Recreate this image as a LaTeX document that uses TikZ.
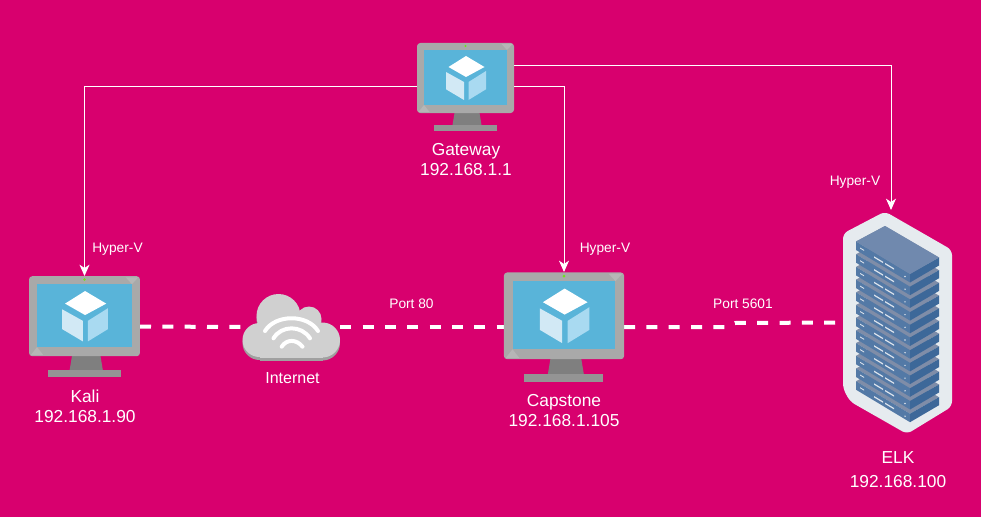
\documentclass[tikz,border=0pt]{standalone}
\usepackage{fontspec}
\setmainfont{Liberation Sans}
\usetikzlibrary{arrows.meta}

\definecolor{bgpink}{HTML}{D8006E}
\definecolor{vmframe}{HTML}{A9A9A9}
\definecolor{vmcorner}{HTML}{B6B6B6}
\definecolor{vmneck}{HTML}{7F7F7F}
\definecolor{vmbase}{HTML}{949494}
\definecolor{vmscreen}{HTML}{59B4D9}
\definecolor{vmleft}{HTML}{D2E9F5}
\definecolor{vmright}{HTML}{A9DAF1}
\definecolor{cloudbody}{HTML}{D0D0D0}
\definecolor{cloudshade}{HTML}{A0A0A0}
\definecolor{rackshield}{HTML}{E6EBEF}
\definecolor{racktop}{HTML}{7089AE}
\definecolor{rackgrey}{HTML}{7F8DA8}
\definecolor{rackleft}{HTML}{5379A6}
\definecolor{rackright}{HTML}{3D6899}
\definecolor{rackbar}{HTML}{DCE3EC}

\tikzset{
  iconbox/.style={inner sep=0pt, outer sep=0pt},
  biglabel/.style={text=white, align=center, inner sep=0pt, font=\fontsize{13}{15}\selectfont},
  midlabel/.style={text=white, inner sep=0pt, font=\fontsize{12}{14}\selectfont},
  smalllabel/.style={text=white, inner sep=0pt, font=\fontsize{10.3}{12}\selectfont},
  hyperlink/.style={draw=white, line width=0.75pt, -{Stealth[length=8.5pt,width=7.5pt,inset=2.5pt]}},
  portlink/.style={draw=white, line width=3pt, dash pattern=on 8.25pt off 8.5pt},
  pics/vmicon/.style={code={
    \fill[vmneck] (-11,26) -- (14,26) -- (16,38) -- (-13,38) -- cycle;
    \fill[vmbase] (-32,38) rectangle (31.5,44);
    \fill[vmframe, rounded corners=2.5pt] (-48.5,-44) rectangle (48.5,26);
    \fill[vmcorner] (-41.5,18) -- (-47,25) -- (-36,25) -- cycle;
    \fill[vmcorner] (41.5,-37) -- (47,-43) -- (36,-43) -- cycle;
    \fill[vmscreen] (-41.5,-37) rectangle (41.5,18);
    \fill[green!60!yellow!80!gray] (0,-41) circle (1.2);
    \fill[white] (0.5,-31) -- (19,-20) -- (0.5,-10) -- (-17,-20) -- cycle;
    \fill[vmleft] (-19.5,-15) -- (-1.5,-5) -- (-1.5,13) -- (-19.5,2.3) -- cycle;
    \fill[vmright] (3,-5) -- (20.5,-16) -- (20.5,2.3) -- (3,13) -- cycle;
  }},
  pics/cloudicon/.style={code={
    % shaded underside first, then the body on top of it
    \foreach \col/\dy in {cloudshade/3,cloudbody/0}{
      \begin{scope}[shift={(0,\dy)}]
        \fill[\col] (-13,-11) circle (22);
        \fill[\col] (17.5,-8) circle (12.5);
        \fill[\col] (31,13) circle (17.5);
        \fill[\col] (-32,13) circle (17);
        \fill[\col] (-32,10) rectangle (31,30.5);
        \fill[\col] (-13,-11) rectangle (17.5,15);
      \end{scope}
    }
    \draw[white, line width=3pt, line cap=round]
      (-26.5,4) .. controls (-16,-13) and (16,-13) .. (26.5,4)
      (-18,11.3) .. controls (-10,-2) and (10,-2) .. (18.5,11.3)
      (-9.8,19.7) .. controls (-5,12) and (5,12) .. (11,19.7);
  }},
  pics/rackicon/.style={code={
    \fill[rackshield, rounded corners=4pt] (-12,-111) -- (55,-72.5) -- (55,84) -- (10,111.5)
      -- (-47,79) -- (-54,66) -- (-54,-89) -- cycle;
    % one pass per unit, from the bottom of the stack up
    \foreach \i in {11,10,...,0}{
      \begin{scope}[shift={(0,\i*12.7)}]
        \fill[rackgrey] (-12,-96.5) -- (42,-65) -- (13,-48.5) -- (-41,-81) -- cycle;
        \fill[rackleft] (-41,-81) -- (13,-48.5) -- (13,-40) -- (-41,-72.5) -- cycle;
        \fill[rackright] (13,-48.5) -- (42,-65) -- (42,-57) -- (13,-40) -- cycle;
        \fill[rackbar] (-37,-75) -- (-33,-72.6) -- (-33,-71.6) -- (-37,-74) -- cycle;
        \fill[rackbar] (-23,-66.2) -- (-14,-60.8) -- (-14,-59.4) -- (-23,-64.8) -- cycle;
        \fill[rackbar] (-12,-59.6) -- (-3,-54.2) -- (-3,-52.8) -- (-12,-58.2) -- cycle;
        \fill[rackbar] (8,-46) circle (0.8);
      \end{scope}
    }
    \fill[racktop] (-12,-96.5) -- (42,-65) -- (13,-48.5) -- (-41,-81) -- cycle;
  }},
}

\begin{document}
\begin{tikzpicture}[x=0.75pt, y=-0.75pt]
    \fill[bgpink] (0,0) rectangle (981,517);

    % Icon slots
    \node (gateway) at (465.5,87) [iconbox, minimum width=72.75pt, minimum height=66pt] {};
    \node (kali) at (84.5,326.5) [iconbox, minimum width=83.25pt, minimum height=75.75pt] {};
    \node (capstone) at (564,327) [iconbox, minimum width=90pt, minimum height=82.5pt] {};
    \node (internet) at (291.5,327) [iconbox, minimum width=73pt, minimum height=49.5pt] {};
    \node (elk) at (897,322.5) [iconbox, minimum width=82.5pt, minimum height=166pt] {};
    \coordinate (gwport) at (514,66);
    \coordinate (elktop) at (891,210);
    \coordinate (jogleft) at (725,327);
    \coordinate (jogright) at (735,323);

    % Dashed port links go under the icons
    \draw[portlink] (kali.east) -- (internet.west);
    \draw[portlink] (internet.east) -- (capstone.west);
    \draw[portlink, shorten >=2pt] (capstone.east) -- (jogleft) -- (jogright) -- (elk.west);

    \pic at (gateway) {vmicon};
    \pic[scale=1.144] at (kali) {vmicon};
    \pic[scale=1.24] at (capstone) {vmicon};
    \pic at (internet) {cloudicon};
    \pic at (elk) {rackicon};

    % Hyper-V links
    \draw[hyperlink] (gateway.west) -| (kali.north);
    \draw[hyperlink] (gateway.east) -| (capstone.north);
    \draw[hyperlink] (gwport) -| (elktop);

    % Labels
    \node (gatewaytxt) at (466,160) [biglabel] {Gateway\\192.168.1.1};
    \node (kalitxt) at (85,406) [biglabel] {Kali\\192.168.1.90};
    \node (capstonetxt) at (564,410.5) [biglabel] {Capstone\\192.168.1.105};
    \node (elktxt) at (898,469.5) [biglabel, font=\fontsize{13}{18}\selectfont] {ELK\\192.168.100};
    \node (internettxt) at (292.5,378) [midlabel] {Internet};
    \node (hyperkali) at (117.5,249) [smalllabel] {Hyper-V};
    \node (hypercap) at (605,249) [smalllabel] {Hyper-V};
    \node (hyperelk) at (855,182) [smalllabel] {Hyper-V};
    \node (porteighty) at (411.5,304) [smalllabel] {Port 80};
    \node (portkibana) at (743,304) [smalllabel] {Port 5601};
\end{tikzpicture}
\end{document}
